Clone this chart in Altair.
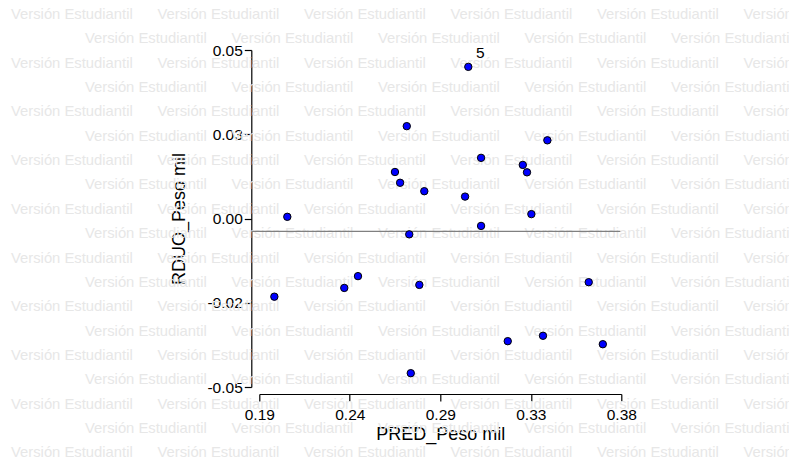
import altair as alt
import pandas as pd

# ---- data ----
pred = [0.2047, 0.2674, 0.2612, 0.2639, 0.2766, 0.2687, 0.2997, 0.3412,
        0.3064, 0.3283, 0.3305, 0.2980, 0.3328, 0.3064, 0.1979, 0.2346,
        0.2418, 0.2740, 0.2695, 0.3629, 0.3204, 0.3389, 0.3703]
rduo = [0.0005, 0.0274, 0.0138, 0.0106, 0.0081, -0.0047, 0.0450, 0.0232,
        0.0180, 0.0159, 0.0137, 0.0065, 0.0013, -0.0022, -0.0232, -0.0206,
        -0.0171, -0.0197, -0.0459, -0.0189, -0.0364, -0.0348, -0.0373]
point_labels = ["", "", "", "", "", "", "5", "", "", "", "", "", "", "",
                "", "", "", "", "", "", "", "", ""]
x_ticks = [0.19, 0.2375, 0.285, 0.3325, 0.38]
x_tick_labels = ["0.19", "0.24", "0.29", "0.33", "0.38"]
y_ticks = [-0.05, -0.025, 0.0, 0.025, 0.05]
y_tick_labels = ["-0.05", "-0.02", "0.00", "0.03", "0.05"]
ref_line = [-0.0038]
x_title = "PRED_Peso mil"
y_title = "RDUO_Peso mil"
watermark = "Versión Estudiantil"

FONT = "Liberation Sans"
W, H = 362, 337
OX, OY = 259.3, 50  # page position of plot origin
XD = [0.19, 0.38]
YD = [-0.05, 0.05]

df = pd.DataFrame({"pred": pred, "rduo": rduo, "lab": point_labels})

# watermark tiling (decoration): page pixels converted to the plot's data units
wm_rows = []
for k in range(19):
    yy = 15 + 24.35 * k
    start = 11 if k % 2 == 0 else 85
    c = 0
    while start + 146.5 * c < 797:
        px = start + 146.5 * c - OX
        py = yy - OY
        wm_rows.append({
            "pred": XD[0] + px / W * (XD[1] - XD[0]),
            "rduo": YD[1] - py / H * (YD[1] - YD[0]),
            "t": watermark,
        })
        c += 1
wm_df = pd.DataFrame(wm_rows)


def lab_expr(vals, labs):
    return "[" + ",".join("'%s'" % s for s in labs) + "][indexof([" + \
        ",".join(repr(v) for v in vals) + "], datum.value)]"


xsc = alt.Scale(domain=XD, nice=False, zero=False)
ysc = alt.Scale(domain=YD, nice=False, zero=False)

common = dict(labelFont=FONT, labelFontSize=15.5, labelColor="black",
              titleFont=FONT, titleFontSize=18, titleColor="black",
              titleFontWeight="normal", labelFlush=False, labelOverlap=False,
              domainColor="black", domainWidth=1.2, tickColor="black",
              tickWidth=1.2, grid=False)

x_axis = alt.Axis(
    values=x_ticks, labelExpr=lab_expr(x_ticks, x_tick_labels),
    offset=7, tickSize=7, labelPadding=6, titlePadding=3, **common)
y_axis = alt.Axis(
    values=y_ticks, labelExpr=lab_expr(y_ticks, y_tick_labels),
    offset=8, tickSize=7, labelPadding=2, titlePadding=18, **common)

X = alt.X("pred:Q", scale=xsc, axis=x_axis, title=x_title)
Y = alt.Y("rduo:Q", scale=ysc, axis=y_axis, title=y_title)

wm = alt.Chart(wm_df).mark_text(
    align="left", baseline="middle", font=FONT, fontSize=14.8, color="#e7e7e7"
).encode(x=X, y=Y, text="t:N")

rule = alt.Chart(pd.DataFrame({"rduo": ref_line})).mark_rule(
    color="#808080", strokeWidth=1.3
).encode(
    y=Y,
    x=alt.value(-8),
    x2=alt.value(W - 1),
)

points = alt.Chart(df).mark_circle(
    size=55, color="#0000ff", stroke="black", strokeWidth=1, opacity=1
).encode(x=X, y=Y)

labels = alt.Chart(df).transform_filter("datum.lab != ''").mark_text(
    dx=12, dy=-14, font=FONT, fontSize=15.5, color="black"
).encode(x=X, y=Y, text="lab:N")

chart = alt.layer(wm, rule, points, labels).properties(
    width=W, height=H,
    padding={"left": OX - 8, "top": OY - 8, "right": 781 - (OX - 8) - W,
             "bottom": 450 - (OY - 8) - H},
    autosize=alt.AutoSizeParams(type="none"),
).configure_view(stroke=None).configure_axis(
    grid=False, labelFont=FONT, titleFont=FONT,
    labelFontSize=15.5, titleFontSize=18, titleFontWeight="normal",
)

chart.save("out.html", embed_options={"renderer": "svg", "actions": False})
